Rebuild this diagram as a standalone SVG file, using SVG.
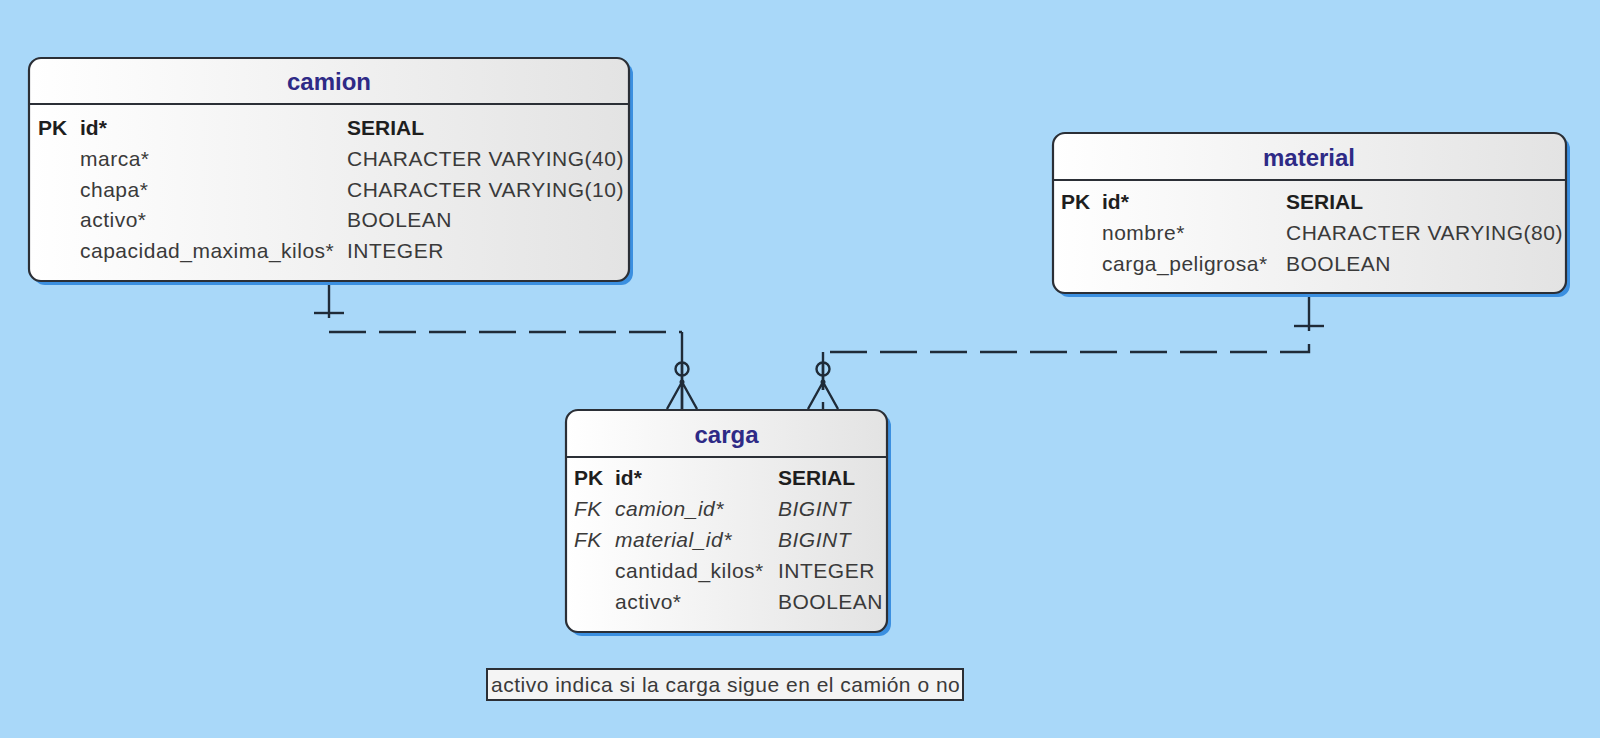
<svg xmlns="http://www.w3.org/2000/svg" width="1600" height="738" viewBox="0 0 1600 738">
<defs>
<linearGradient id="boxfill" x1="0" y1="0" x2="1" y2="0">
<stop offset="0" stop-color="#ffffff"/>
<stop offset="1" stop-color="#e3e3e3"/>
</linearGradient>
<style>
.shadow{fill:#3b8fe0;}
.box{fill:url(#boxfill);stroke:#2b2f36;stroke-width:2.2;}
.sep{stroke:#2b2f36;stroke-width:2.2;}
.title{font-family:"Liberation Sans",Arial,sans-serif;font-size:24px;font-weight:bold;fill:#2e2a86;text-anchor:middle;}
.t{font-family:"Liberation Sans",Arial,sans-serif;font-size:21px;fill:#3a3a3a;letter-spacing:0.5px;}
.b{font-weight:bold;fill:#1e1e1e;letter-spacing:0;}
.i{font-style:italic;}
.ln{fill:none;stroke:#1f2b38;stroke-width:2.4;}
.dash{stroke-dasharray:37 13;}
.note{fill:#f4f4f4;stroke:#2b2f36;stroke-width:2;}
</style>
</defs>
<rect width="1600" height="738" fill="#a9d8f9"/>

<g id="connectors">
<!-- camion - carga -->
<path class="ln" d="M329,281 V318"/>
<path class="ln" d="M314,313 H344"/>
<path class="ln dash" d="M329,332 H682"/>
<path class="ln" d="M682,332 V410"/>
<circle class="ln" cx="682" cy="369" r="6.5" fill="#a9d8f9"/>
<path class="ln" d="M682,362 V410 M682,382 L667,409 M682,382 L697,409"/>
<circle cx="682" cy="382" r="2.5" fill="#1f2b38"/>
<!-- material - carga -->
<path class="ln" d="M1309,293 V331"/>
<path class="ln" d="M1294,326 H1324"/>
<path class="ln dash" d="M1309,344 V352 H823"/>
<path class="ln" d="M823,352 V390 M823,402 V410"/>
<circle class="ln" cx="823" cy="369" r="6.5" fill="#a9d8f9"/>
<path class="ln" d="M823,362 V390 M823,382 L808,409 M823,382 L838,409"/>
<circle cx="823" cy="382" r="2.5" fill="#1f2b38"/>
</g>

<g id="camion">
<rect class="shadow" x="33" y="62" width="600" height="223" rx="12"/>
<rect class="box" x="29" y="58" width="600" height="223" rx="12"/>
<line class="sep" x1="29" y1="104" x2="629" y2="104"/>
<text class="title" x="329" y="90">camion</text>
<text class="t b" x="38" y="135">PK</text>
<text class="t b" x="80" y="135">id*</text>
<text class="t b" x="347" y="135">SERIAL</text>
<text class="t" x="80" y="165.5">marca*</text>
<text class="t" x="347" y="165.5">CHARACTER VARYING(40)</text>
<text class="t" x="80" y="196.5">chapa*</text>
<text class="t" x="347" y="196.5">CHARACTER VARYING(10)</text>
<text class="t" x="80" y="227">activo*</text>
<text class="t" x="347" y="227">BOOLEAN</text>
<text class="t" x="80" y="258">capacidad_maxima_kilos*</text>
<text class="t" x="347" y="258">INTEGER</text>
</g>

<g id="material">
<rect class="shadow" x="1057" y="137" width="513" height="160" rx="12"/>
<rect class="box" x="1053" y="133" width="513" height="160" rx="12"/>
<line class="sep" x1="1053" y1="180" x2="1566" y2="180"/>
<text class="title" x="1309" y="166">material</text>
<text class="t b" x="1061" y="208.5">PK</text>
<text class="t b" x="1102" y="208.5">id*</text>
<text class="t b" x="1286" y="208.5">SERIAL</text>
<text class="t" x="1102" y="240">nombre*</text>
<text class="t" x="1286" y="240">CHARACTER VARYING(80)</text>
<text class="t" x="1102" y="271">carga_peligrosa*</text>
<text class="t" x="1286" y="271">BOOLEAN</text>
</g>

<g id="carga">
<rect class="shadow" x="570" y="414" width="321" height="222" rx="12"/>
<rect class="box" x="566" y="410" width="321" height="222" rx="12"/>
<line class="sep" x1="566" y1="457" x2="887" y2="457"/>
<text class="title" x="726.5" y="443">carga</text>
<text class="t b" x="574" y="485">PK</text>
<text class="t b" x="615" y="485">id*</text>
<text class="t b" x="778" y="485">SERIAL</text>
<text class="t i" x="574" y="516">FK</text>
<text class="t i" x="615" y="516">camion_id*</text>
<text class="t i" x="778" y="516">BIGINT</text>
<text class="t i" x="574" y="547">FK</text>
<text class="t i" x="615" y="547">material_id*</text>
<text class="t i" x="778" y="547">BIGINT</text>
<text class="t" x="615" y="578">cantidad_kilos*</text>
<text class="t" x="778" y="578">INTEGER</text>
<text class="t" x="615" y="609">activo*</text>
<text class="t" x="778" y="609">BOOLEAN</text>
</g>

<g id="note">
<rect class="note" x="487" y="669" width="476" height="31"/>
<text class="t" x="491" y="692">activo indica si la carga sigue en el camión o no</text>
</g>
</svg>
